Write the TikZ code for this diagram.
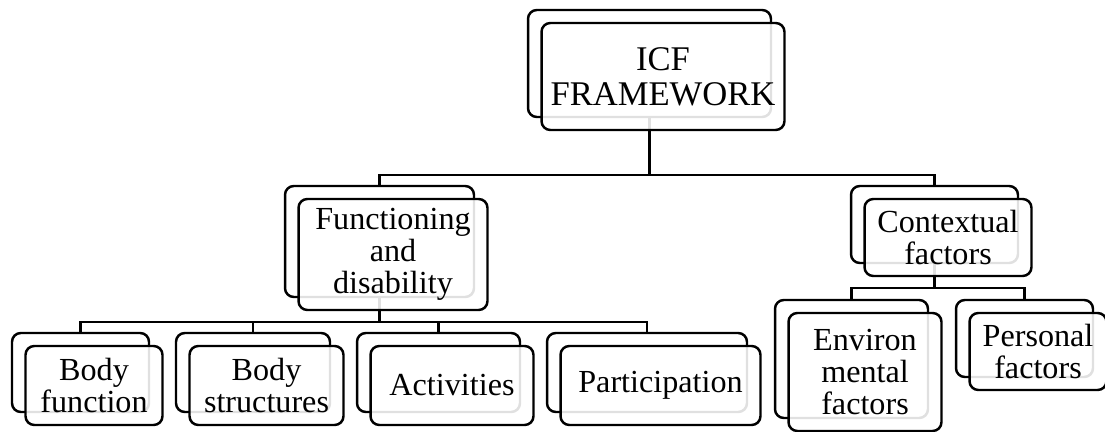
\documentclass[tikz,border=0pt]{standalone}
\usepackage{fontspec}
\setmainfont{Liberation Serif}
\usetikzlibrary{backgrounds}
\tikzset{
  backbox/.style={draw, line width=1.4pt, rounded corners=5pt, fill=white, inner sep=0pt},
  frontbox/.style={draw, line width=1.4pt, rounded corners=5pt, fill=white, fill opacity=0.88, text opacity=1, inner sep=0pt, align=center, font=\fontsize{18.3}{18.2}\selectfont},
  link/.style={line width=1.3pt, line join=miter}
}

\begin{document}
\begin{tikzpicture}[x=0.02cm, y=-0.02cm]
  \useasboundingbox (0,0) rectangle (1105,432);
  % top level
  \node[backbox, minimum width=4.86cm, minimum height=2.14cm] (icf) at (649.5,63.5) {};
  \node[frontbox, minimum width=4.86cm, minimum height=2.14cm, font=\fontsize{19.7}{19.9}\selectfont] (icf-f) at ([shift={(13.5,13)}]icf.center) {ICF\\FRAMEWORK};
  % second level
  \node[backbox, minimum width=3.78cm, minimum height=2.22cm] (func) at (379.5,241.5) {};
  \node[frontbox, minimum width=3.78cm, minimum height=2.22cm] (func-f) at ([shift={(13.5,13)}]func.center) {Functioning\\and\\disability};
  \node[backbox, minimum width=3.34cm, minimum height=1.54cm] (ctx) at (934.5,224.5) {};
  \node[frontbox, minimum width=3.34cm, minimum height=1.54cm] (ctx-f) at ([shift={(13.5,13)}]ctx.center) {Contextual\\factors};
  % third level, functioning
  \node[backbox, minimum width=2.74cm, minimum height=1.58cm] (bodyf) at (80.5,372.5) {};
  \node[frontbox, minimum width=2.74cm, minimum height=1.58cm] (bodyf-f) at ([shift={(13.5,13)}]bodyf.center) {Body\\function};
  \node[backbox, minimum width=3.08cm, minimum height=1.58cm] (bodys) at (253,372.5) {};
  \node[frontbox, minimum width=3.08cm, minimum height=1.58cm] (bodys-f) at ([shift={(13.5,13)}]bodys.center) {Body\\structures};
  \node[backbox, minimum width=3.26cm, minimum height=1.58cm] (act) at (438.5,372.5) {};
  \node[frontbox, minimum width=3.26cm, minimum height=1.58cm] (act-f) at ([shift={(13.5,13)}]act.center) {Activities};
  \node[backbox, minimum width=4.00cm, minimum height=1.58cm] (part) at (647,372.5) {};
  \node[frontbox, minimum width=4.00cm, minimum height=1.58cm] (part-f) at ([shift={(13.5,13)}]part.center) {Participation};
  % third level, contextual
  \node[backbox, minimum width=3.06cm, minimum height=2.36cm] (env) at (851.5,359) {};
  \node[frontbox, minimum width=3.06cm, minimum height=2.36cm] (env-f) at ([shift={(13.5,13)}]env.center) {Environ\\mental\\factors};
  \node[backbox, minimum width=2.74cm, minimum height=1.54cm] (pers) at (1024.5,338.5) {};
  \node[frontbox, minimum width=2.74cm, minimum height=1.54cm] (pers-f) at ([shift={(13.5,13)}]pers.center) {Personal\\factors};

  \begin{scope}[on background layer]
    \coordinate (bus-top) at (649.5,175);
    \coordinate (bus-func) at (379.5,322);
    \coordinate (bus-ctx) at (934.5,288);
    \draw[link] (icf.south) -- (bus-top);
    \draw[link] (func.north) |- (bus-top) -| (ctx.north);
    \draw[link] (func.south) -- (bus-func);
    \draw[link] (bodyf.north) |- (bus-func) -| (part.north);
    \foreach \n in {bodys,act}
      \draw[link] (\n.north) -- (\n.north |- bus-func);
    \draw[link] (ctx.south) -- (bus-ctx);
    \draw[link] (env.north) |- (bus-ctx) -| (pers.north);
  \end{scope}
\end{tikzpicture}
\end{document}
